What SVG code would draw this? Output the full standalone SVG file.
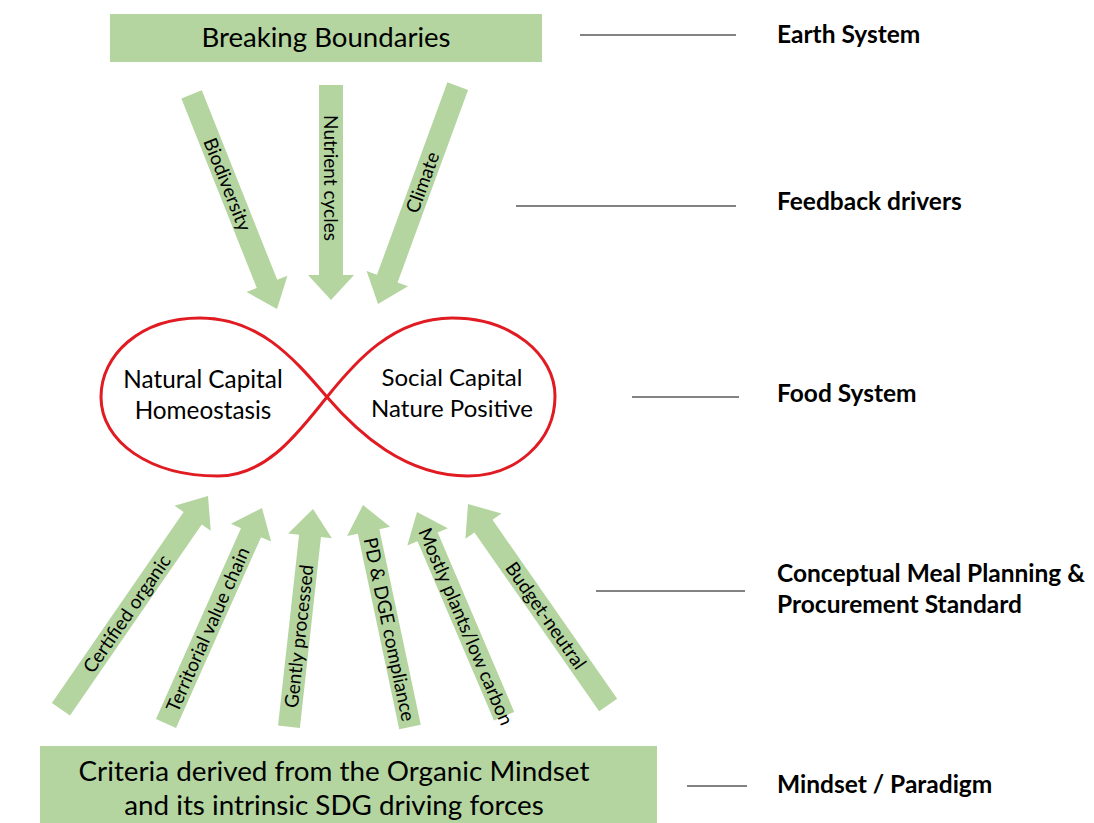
<svg xmlns="http://www.w3.org/2000/svg" width="1094" height="823" viewBox="0 0 1094 823">
  <style>
    .box { fill: #b4d5a0; }
    .arrow { fill: #b4d5a0; }
    .t { font-family: Lato, "Liberation Sans", sans-serif; fill: #000; }
    .lbl { font-family: Lato, "Liberation Sans", sans-serif; font-size: 19px; fill: #000; text-anchor: middle; }
    .side { font-family: Lato, "Liberation Sans", sans-serif; font-size: 24.5px; font-weight: bold; fill: #000; }
    .guide { stroke: #595959; stroke-width: 1.3; }
    .loop { fill: none; stroke: #e11b22; stroke-width: 3; }
  </style>

  <!-- top box -->
  <g id="breaking-boundaries">
    <rect class="box" x="110" y="14" width="432" height="48"/>
    <text class="t" x="326" y="47" font-size="27.6" text-anchor="middle">Breaking Boundaries</text>
  </g>

  <!-- infinity loop with the two capitals -->
  <g id="food-system">
    <path class="loop" d="M327,397 C292,356 258,318 200,318 C140,318 101,355 101,397 C101,442 150,476 218,476 C268,476 300,430 327,397 C355,362 393,318 452,318 C512,318 555,355 555,396 C555,442 515,476 468,476 C405,476 358,433 327,397 Z"/>
    <text class="t" x="203" y="388" font-size="24.3" text-anchor="middle">Natural Capital</text>
    <text class="t" x="203" y="419" font-size="24.3" text-anchor="middle">Homeostasis</text>
    <text class="t" x="452" y="386" font-size="24" text-anchor="middle">Social Capital</text>
    <text class="t" x="452" y="417" font-size="24" text-anchor="middle">Nature Positive</text>
  </g>

  <!-- bottom box -->
  <g id="organic-mindset">
    <rect class="box" x="40" y="746" width="617" height="77"/>
    <text class="t" x="334" y="781" font-size="27.8" text-anchor="middle">Criteria derived from the Organic Mindset</text>
    <text class="t" x="334" y="815" font-size="27.8" text-anchor="middle">and its intrinsic SDG driving forces</text>
  </g>

  <!-- block arrows: local frame has the tip at the origin, shaft along -x -->
  <g id="connectors">
    <g id="arrow-biodiversity" transform="translate(277,309) rotate(68.3)">
      <polygon class="arrow" points="0,0 -27,-22 -27,-11 -231,-11 -231,11 -27,11 -27,22"/>
      <text class="lbl" x="-134" y="0" dy="0.35em">Biodiversity</text>
    </g>
    <g id="arrow-nutrient" transform="translate(331,300) rotate(90)">
      <polygon class="arrow" points="0,0 -25,-23 -25,-12 -215,-12 -215,12 -25,12 -25,23"/>
      <text class="lbl" x="-122" y="0" dy="0.35em">Nutrient cycles</text>
    </g>
    <g id="arrow-climate" transform="translate(378,304) rotate(110.1)">
      <polygon class="arrow" points="0,0 -27,-22 -27,-11 -232,-11 -232,11 -27,11 -27,22"/>
      <text class="lbl" x="-129.5" y="0" dy="0.35em" transform="rotate(180,-129.5,0)">Climate</text>
    </g>

    <g id="arrow-certified" transform="translate(208,496) rotate(-55.4)">
      <polygon class="arrow" points="0,0 -27,-22 -27,-11 -259,-11 -259,11 -27,11 -27,22"/>
      <text class="lbl" x="-143" y="0" dy="0.35em">Certified organic</text>
    </g>
    <g id="arrow-territorial" transform="translate(262,508) rotate(-66)">
      <polygon class="arrow" points="0,0 -27,-22 -27,-11 -236,-11 -236,11 -27,11 -27,22"/>
      <text class="lbl" x="-133" y="0" dy="0.35em">Territorial value chain</text>
    </g>
    <g id="arrow-gently" transform="translate(313,509) rotate(-83.7)">
      <polygon class="arrow" points="0,0 -27,-22 -27,-11 -219,-11 -219,11 -27,11 -27,22"/>
      <text class="lbl" x="-128" y="0" dy="0.35em">Gently processed</text>
    </g>
    <g id="arrow-pd-dge" transform="translate(363,505) rotate(-101.95)">
      <polygon class="arrow" points="0,0 -27,-22 -27,-11 -227,-11 -227,11 -27,11 -27,22"/>
      <text class="lbl" x="-127" y="0" dy="0.35em" transform="rotate(180,-127,0)">PD &amp; DGE compliance</text>
    </g>
    <g id="arrow-plants" transform="translate(417,512) rotate(-113.1)">
      <polygon class="arrow" points="0,0 -27,-22 -27,-11 -222,-11 -222,11 -27,11 -27,22"/>
      <text class="lbl" x="-124.5" y="0" dy="0.35em" transform="rotate(180,-124.5,0)">Mostly plants/low carbon</text>
    </g>
    <g id="arrow-budget" transform="translate(468,504) rotate(-124.9)">
      <polygon class="arrow" points="0,0 -27,-22 -27,-11 -245,-11 -245,11 -27,11 -27,22"/>
      <text class="lbl" x="-136" y="0" dy="0.35em" transform="rotate(180,-136,0)">Budget-neutral</text>
    </g>

    <!-- level guide lines -->
    <line class="guide" x1="580" y1="35" x2="736" y2="35"/>
    <line class="guide" x1="516" y1="206" x2="736" y2="206"/>
    <line class="guide" x1="632" y1="397" x2="739" y2="397"/>
    <line class="guide" x1="596" y1="591" x2="745" y2="591"/>
    <line class="guide" x1="687" y1="786" x2="747" y2="786"/>
  </g>

  <!-- level labels -->
  <g id="level-earth"><text class="side" x="777" y="43">Earth System</text></g>
  <g id="level-feedback"><text class="side" x="777" y="210">Feedback drivers</text></g>
  <g id="level-food"><text class="side" x="777" y="402">Food System</text></g>
  <g id="level-standard">
    <text class="side" x="777" y="582">Conceptual Meal Planning &amp;</text>
    <text class="side" x="777" y="613">Procurement Standard</text>
  </g>
  <g id="level-mindset"><text class="side" x="777" y="793">Mindset / Paradigm</text></g>
</svg>
